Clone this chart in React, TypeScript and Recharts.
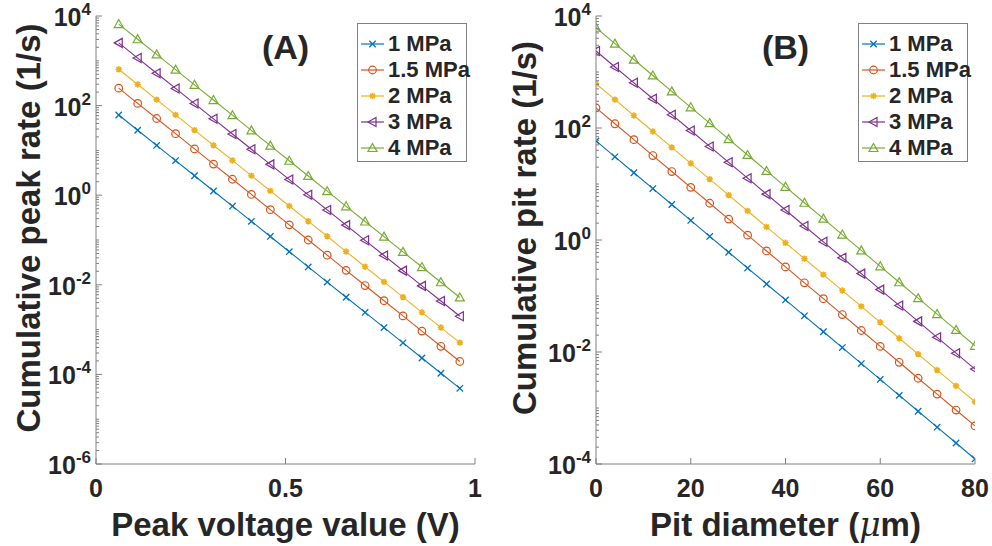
// Two-panel log-scale rate chart: (A) peak voltage, (B) pit diameter.

import { LineChart, Line, XAxis, YAxis, Legend } from 'recharts'

// ── Panel A data ───────────────────────────────────────────────────────────
const VOLTAGE = [0.06, 0.11, 0.16, 0.21, 0.26, 0.31, 0.36, 0.41, 0.46, 0.51, 0.56, 0.61, 0.66, 0.71, 0.76, 0.81, 0.86, 0.91, 0.96]
const PEAK_1 = [61.7, 28.2, 12.9, 5.93, 2.72, 1.24, 0.57, 0.261, 0.12, 0.0548, 0.0251, 0.0115, 0.00527, 0.00242, 0.00111, 5.07e-4, 2.32e-4, 1.06e-4, 4.88e-5]
const PEAK_15 = [245, 112, 51.5, 23.6, 10.8, 4.95, 2.27, 1.04, 0.476, 0.218, 0.1, 0.0458, 0.021, 0.00962, 0.00441, 0.00202, 9.25e-4, 4.24e-4, 1.94e-4]
const PEAK_2 = [646, 296, 136, 62.1, 28.4, 13.0, 5.97, 2.74, 1.25, 0.574, 0.263, 0.121, 0.0552, 0.0253, 0.0116, 0.00531, 0.00243, 0.00111, 5.11e-4]
const PEAK_3 = [2510, 1150, 527, 242, 111, 50.7, 23.2, 10.6, 4.88, 2.23, 1.02, 0.469, 0.215, 0.0984, 0.0451, 0.0207, 0.00946, 0.00434, 0.00199]
const PEAK_4 = [6610, 3030, 1390, 635, 291, 133, 61.1, 28.0, 12.8, 5.87, 2.69, 1.23, 0.565, 0.259, 0.119, 0.0543, 0.0249, 0.0114, 0.00522]

// ── Panel B data ───────────────────────────────────────────────────────────
const DIAMETER = [0, 4, 8, 12, 16, 20, 24, 28, 32, 36, 40, 44, 48, 52, 56, 60, 64, 68, 72, 76, 80]
const PIT_1 = [58.9, 30.6, 15.9, 8.28, 4.31, 2.24, 1.16, 0.605, 0.315, 0.164, 0.0851, 0.0443, 0.023, 0.012, 0.00622, 0.00324, 0.00168, 8.75e-4, 4.55e-4, 2.37e-4, 1.23e-4]
const PIT_15 = [229, 119, 61.9, 32.2, 16.7, 8.71, 4.53, 2.36, 1.22, 0.637, 0.331, 0.172, 0.0895, 0.0466, 0.0242, 0.0126, 0.00655, 0.0034, 0.00177, 9.2e-4, 4.79e-4]
const PIT_2 = [617, 321, 167, 86.7, 45.1, 23.4, 12.2, 6.34, 3.3, 1.71, 0.891, 0.463, 0.241, 0.125, 0.0652, 0.0339, 0.0176, 0.00916, 0.00476, 0.00248, 0.00129]
const PIT_3 = [2370, 1230, 641, 333, 173, 90.2, 46.9, 24.4, 12.7, 6.59, 3.43, 1.78, 0.927, 0.482, 0.251, 0.13, 0.0678, 0.0352, 0.0183, 0.00953, 0.00495]
const PIT_4 = [6170, 3210, 1670, 867, 451, 234, 122, 63.4, 33.0, 17.1, 8.91, 4.63, 2.41, 1.25, 0.652, 0.339, 0.176, 0.0916, 0.0476, 0.0248, 0.0129]

// ── Axes ───────────────────────────────────────────────────────────────────
const X_TICKS_A = [0, 0.5, 1]
const X_TICKS_B = [0, 20, 40, 60, 80]
const Y_LABELED_A = [-6, -4, -2, 0, 2, 4]   // exponents shown as 10^n
const Y_LABELED_B = [-4, -2, 0, 2, 4]

const SERIES = [
  { key: 's1', name: '1 MPa', color: '#0072BD', marker: 'x' },
  { key: 's15', name: '1.5 MPa', color: '#D95319', marker: 'o' },
  { key: 's2', name: '2 MPa', color: '#EDB120', marker: '*' },
  { key: 's3', name: '3 MPa', color: '#7E2F8E', marker: '<' },
  { key: 's4', name: '4 MPa', color: '#77AC30', marker: '^' },
]

const FONT = '"Liberation Sans", Arial, Helvetica, sans-serif'
const INK = '#262626'
const AXIS = '#808080'

const rowsA = VOLTAGE.map((x, i) => ({
  x, s1: PEAK_1[i], s15: PEAK_15[i], s2: PEAK_2[i], s3: PEAK_3[i], s4: PEAK_4[i],
}))
const rowsB = DIAMETER.map((x, i) => ({
  x, s1: PIT_1[i], s15: PIT_15[i], s2: PIT_2[i], s3: PIT_3[i], s4: PIT_4[i],
}))

// all log ticks (1..9 x 10^k) so minor ticks get drawn
function logTicks(lo: number, hi: number) {
  const out: number[] = []
  for (let k = lo; k < hi; k++) for (let m = 1; m < 10; m++) out.push(m * Math.pow(10, k))
  out.push(Math.pow(10, hi))
  return out
}

function Marker({ cx, cy, color, type }: { cx: number; cy: number; color: string; type: string }) {
  if (cx == null || cy == null) return null
  const s = 3.2
  if (type === 'x')
    return <path d={`M${cx - s},${cy - s}L${cx + s},${cy + s}M${cx - s},${cy + s}L${cx + s},${cy - s}`} stroke={color} strokeWidth={1.3} />
  if (type === 'o') return <circle cx={cx} cy={cy} r={3.8} fill="none" stroke={color} strokeWidth={1.2} />
  if (type === '*')
    return (
      <g stroke={color} strokeWidth={1.6}>
        <path d={`M${cx - s},${cy}L${cx + s},${cy}M${cx},${cy - s}L${cx},${cy + s}M${cx - 2.3},${cy - 2.3}L${cx + 2.3},${cy + 2.3}M${cx - 2.3},${cy + 2.3}L${cx + 2.3},${cy - 2.3}`} />
      </g>
    )
  if (type === '<')
    return <polygon points={`${cx - 4.5},${cy} ${cx + 3.5},${cy - 4.5} ${cx + 3.5},${cy + 4.5}`} fill="none" stroke={color} strokeWidth={1.2} />
  return <polygon points={`${cx},${cy - 4.5} ${cx + 4.5},${cy + 3.5} ${cx - 4.5},${cy + 3.5}`} fill="none" stroke={color} strokeWidth={1.2} />
}

function LogTick(props: any) {
  const { x, y, payload, side, labeled } = props
  const e = Math.log10(payload.value)
  const exp = Math.round(e)
  const decade = Math.abs(e - exp) < 1e-6
  const major = decade && labeled.includes(exp)
  const len = major ? 6 : 3
  const dir = side === 'left' ? 1 : -1
  return (
    <g>
      <line x1={x} y1={y} x2={x + dir * len} y2={y} stroke={AXIS} />
      {side === 'left' && major && (
        <text x={x - 5} y={y + 10} textAnchor="end" fill={INK} fontFamily={FONT} fontWeight="bold" fontSize={25}>
          <tspan>10</tspan>
          <tspan dy={-11} fontSize={17}>{exp}</tspan>
        </text>
      )}
    </g>
  )
}

function LinTick(props: any) {
  const { x, y, payload, side } = props
  const dir = side === 'bottom' ? -1 : 1
  return (
    <g>
      <line x1={x} y1={y} x2={x} y2={y + dir * 6} stroke={AXIS} />
      {side === 'bottom' && (
        <text x={x} y={y + 33} textAnchor="middle" fill={INK} fontFamily={FONT} fontWeight="bold" fontSize={25}>
          {payload.value}
        </text>
      )}
    </g>
  )
}

function LegendBox() {
  return (
    <div style={{ border: `1px solid ${AXIS}`, background: '#fff', padding: '7px 0 0 0', height: 130 }}>
      {SERIES.map(s => (
        <div key={s.key} style={{ display: 'flex', alignItems: 'center', height: 26 }}>
          <svg width={29} height={26} style={{ flex: 'none' }}>
            <line x1={3} y1={13} x2={26} y2={13} stroke={s.color} strokeWidth={1.2} />
            <Marker cx={14.5} cy={13} color={s.color} type={s.marker} />
          </svg>
          <span style={{ fontFamily: FONT, fontWeight: 'bold', fontSize: 22, color: INK, whiteSpace: 'nowrap', marginLeft: 1 }}>{s.name}</span>
        </div>
      ))}
    </div>
  )
}

function Panel({
  data, xDomain, xTicks, yMin, yMax, yLabeled, yTitle, xTitle, tag, yAxisWidth, marginRight, legendLeft,
}: {
  data: Record<string, number>[]
  xDomain: [number, number]
  xTicks: number[]
  yMin: number
  yMax: number
  yLabeled: number[]
  yTitle: string
  xTitle: React.ReactNode
  tag: string
  yAxisWidth: number
  marginRight: number
  legendLeft: number
}) {
  const yTicks = logTicks(yMin, yMax)
  const yDomain: [number, number] = [Math.pow(10, yMin), Math.pow(10, yMax)]
  const plotLeft = yAxisWidth
  const plotRight = 496 - marginRight
  return (
    <div style={{ position: 'relative', width: 496, height: 546 }}>
      <LineChart width={496} height={546} data={data} margin={{ top: 16, right: marginRight, bottom: 0, left: 0 }}>
        <XAxis dataKey="x" type="number" domain={xDomain} ticks={xTicks} interval={0} height={82}
               stroke={AXIS} tickSize={0} tickMargin={0} tickLine={false} allowDataOverflow
               tick={(p: any) => <LinTick {...p} side="bottom" />}
               label={{
                 content: (lp: any) => {
                   const vb = lp.viewBox
                   return (
                     <text x={vb.x + vb.width / 2} y={vb.y + 72} textAnchor="middle" fill={INK} fontFamily={FONT} fontWeight="bold" fontSize={33}>
                       {xTitle}
                     </text>
                   )
                 },
               }} />
        <XAxis xAxisId="top" orientation="top" type="number" domain={xDomain} ticks={xTicks} interval={0} height={0}
               stroke={AXIS} tickSize={0} tickMargin={0} tickLine={false} allowDataOverflow
               tick={(p: any) => <LinTick {...p} side="top" />} />
        <YAxis scale="log" type="number" domain={yDomain} ticks={yTicks} interval={0} width={yAxisWidth}
               stroke={AXIS} tickSize={0} tickMargin={0} tickLine={false} allowDataOverflow
               tick={(p: any) => <LogTick {...p} side="left" labeled={yLabeled} />}
               label={{
                 content: (lp: any) => {
                   const vb = lp.viewBox
                   const cx = vb.x + 28
                   const cy = vb.y + vb.height / 2 - 12
                   return (
                     <text x={cx} y={cy} transform={`rotate(-90 ${cx} ${cy})`} textAnchor="middle" dominantBaseline="central"
                           fill={INK} fontFamily={FONT} fontWeight="bold" fontSize={33}>
                       {yTitle}
                     </text>
                   )
                 },
               }} />
        <YAxis yAxisId="right" orientation="right" scale="log" type="number" domain={yDomain} ticks={yTicks} interval={0} width={0}
               stroke={AXIS} tickSize={0} tickMargin={0} tickLine={false} allowDataOverflow
               tick={(p: any) => <LogTick {...p} side="right" labeled={yLabeled} />} />
        <Legend layout="vertical" align="center" verticalAlign="middle"
                wrapperStyle={{ left: legendLeft, top: 23, width: 110 }}
                content={() => <LegendBox />} />
        {SERIES.map(s => (
          <Line key={s.key} type="linear" dataKey={s.key} name={s.name} stroke={s.color} strokeWidth={1.1}
                dot={(p: any) => <Marker key={`${s.key}-${p.index}`} cx={p.cx} cy={p.cy} color={s.color} type={s.marker} />}
                activeDot={false} isAnimationActive={false} />
        ))}
      </LineChart>
      <div style={{
        position: 'absolute', left: (plotLeft + plotRight) / 2, top: 47, transform: 'translate(-50%, -50%)',
        fontFamily: FONT, fontWeight: 'bold', fontSize: 34, color: INK, pointerEvents: 'none',
      }}>{tag}</div>
    </div>
  )
}

export default function App() {
  return (
    <div style={{ position: 'absolute', left: 0, top: 0, width: 992, height: 546, background: '#fff', display: 'flex' }}>
      <Panel data={rowsA} xDomain={[0, 1]} xTicks={X_TICKS_A} yMin={-6} yMax={4} yLabeled={Y_LABELED_A}
             yTitle="Cumulative peak rate (1/s)" xTitle="Peak voltage value (V)" tag="(A)"
             yAxisWidth={96} marginRight={21} legendLeft={357} />
      <Panel data={rowsB} xDomain={[0, 80]} xTicks={X_TICKS_B} yMin={-4} yMax={4} yLabeled={Y_LABELED_B}
             yTitle="Cumulative pit rate (1/s)"
             xTitle={<>
               <tspan>Pit diameter (</tspan>
               <tspan fontStyle="italic" fontWeight="normal" fontFamily='"DejaVu Serif", serif'>μ</tspan>
               <tspan>m)</tspan>
             </>}
             tag="(B)" yAxisWidth={100} marginRight={17} legendLeft={362} />
    </div>
  )
}
